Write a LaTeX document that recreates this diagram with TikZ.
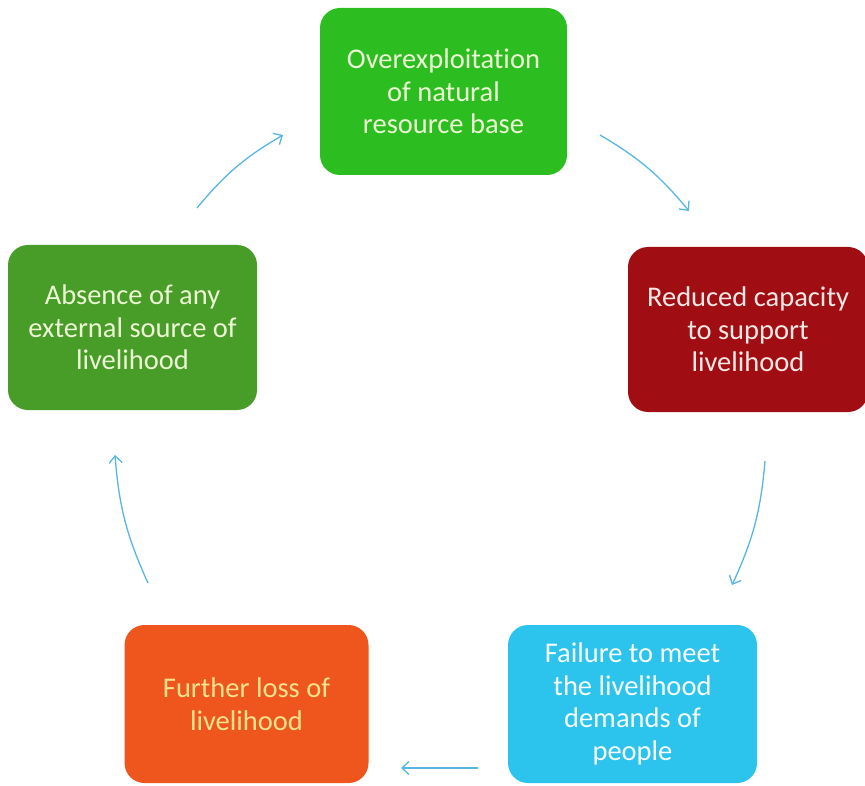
\documentclass[tikz,border=0pt]{standalone}
\usepackage{fontspec}
\setmainfont[Ligatures={NoCommon}]{Carlito}
\usetikzlibrary{arrows.meta}
\definecolor{cTop}{RGB}{44,190,32}
\definecolor{cRed}{RGB}{160,14,20}
\definecolor{cCyan}{RGB}{44,196,236}
\definecolor{cOrange}{RGB}{238,86,30}
\definecolor{cLeft}{RGB}{72,156,40}
\definecolor{cArrow}{RGB}{86,182,228}
\definecolor{tGreen}{RGB}{236,246,212}
\definecolor{tRed}{RGB}{246,232,228}
\definecolor{tCyan}{RGB}{248,252,252}
\definecolor{tOrange}{RGB}{250,226,140}
\tikzset{
  box/.style={rectangle, rounded corners=20pt, inner sep=0pt, align=center,
    font=\fontsize{28.5}{32.5}\selectfont},
  cyc/.style={draw=cArrow, line width=1.3pt, -{Straight Barb[length=7pt,width=13pt]}}
}
\begin{document}
\begin{tikzpicture}[x=1pt,y=-1pt]
\useasboundingbox (0,0) rectangle (865,786);
\node[box, fill=cTop, text=tGreen, minimum width=247pt, minimum height=167pt] (top) at (443.5,91.5)
  {Overexploitat\kern0pt ion\\of natural\\resource base};
\node[box, fill=cRed, text=tRed, minimum width=240pt, minimum height=165pt] (red) at (748,329.5)
  {Reduced capacity\\to support\\livelihood};
\node[box, fill=cCyan, text=tCyan, minimum width=249pt, minimum height=158pt] (cyan) at (632.5,704)
  {Failure to meet\\the livelihood\\demands of\\people};
\node[box, fill=cOrange, text=tOrange, minimum width=244pt, minimum height=158pt] (orange) at (246.5,704)
  {Further loss of\\livelihood};
\node[box, fill=cLeft, text=tGreen, minimum width=249pt, minimum height=165pt] (left) at (132.5,327.5)
  {Absence of any\\external source of\\livelihood};
\coordinate (a1s) at (197,208);
\coordinate (a1e) at (283,135);
\coordinate (a2s) at (600,135);
\coordinate (a2e) at (689,211);
\coordinate (a3s) at (765,461);
\coordinate (a3e) at (732,585);
\coordinate (a4s) at (478,768);
\coordinate (a4e) at (401,768);
\coordinate (a5s) at (148,583);
\coordinate (a5e) at (115,455);
\draw[cyc] (a1s) to[bend left=10] (a1e);
\draw[cyc] (a2s) to[bend left=10] (a2e);
\draw[cyc] (a3s) to[bend left=10] (a3e);
\draw[cyc] (a4s) -- (a4e);
\draw[cyc] (a5s) to[bend left=10] (a5e);
\end{tikzpicture}
\end{document}
